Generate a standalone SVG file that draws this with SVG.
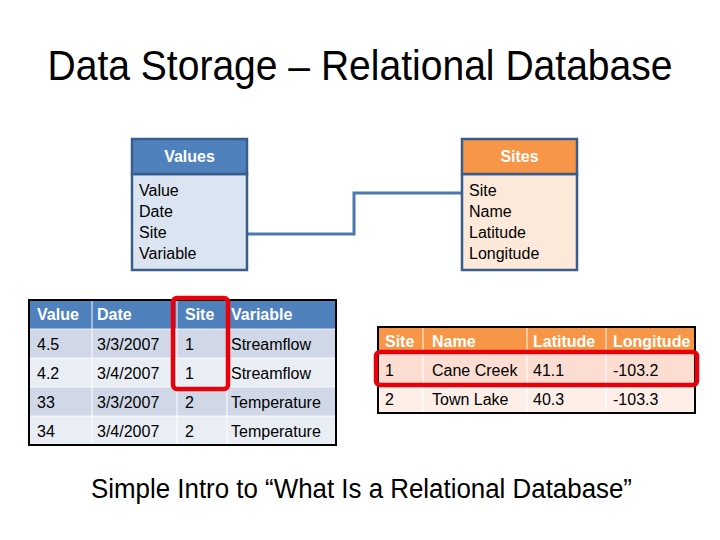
<svg xmlns="http://www.w3.org/2000/svg" width="720" height="540" viewBox="0 0 720 540">
<style>
text{font-family:"Liberation Sans",Arial,sans-serif;fill:#000}
.title{font-size:42px}
.sub{font-size:27px}
.t{font-size:16px}
.hd{font-size:16px;font-weight:bold;fill:#fff}
.div{stroke:#fff;stroke-width:1.2;stroke-opacity:0.8}
.red{fill:none;stroke:#e8000b;stroke-width:4.5}
</style>
<rect width="720" height="540" fill="#fff"/>
<text class="title" x="360" y="80" text-anchor="middle" textLength="625" lengthAdjust="spacingAndGlyphs">Data Storage – Relational Database</text>

<g id="connectors">
<polyline points="247,234 354,234 354,193 462,193" fill="none" stroke="#4a78b0" stroke-width="3"/>
</g>

<g id="values-entity">
<rect x="132" y="174" width="115" height="96" fill="#dbe5f1" stroke="#385d8a" stroke-width="2.5"/>
<rect x="132" y="139" width="115" height="35" fill="#4f81bd" stroke="#385d8a" stroke-width="2.5"/>
<text class="hd" x="189.5" y="162" text-anchor="middle">Values</text>
<text class="t" x="139" y="196">Value</text>
<text class="t" x="139" y="217">Date</text>
<text class="t" x="139" y="238">Site</text>
<text class="t" x="139" y="259">Variable</text>
</g>

<g id="sites-entity">
<rect x="462" y="174" width="115" height="96" fill="#fde9d9" stroke="#385d8a" stroke-width="2.5"/>
<rect x="462" y="139" width="115" height="35" fill="#f79646" stroke="#385d8a" stroke-width="2.5"/>
<text class="hd" x="519.5" y="162" text-anchor="middle">Sites</text>
<text class="t" x="469" y="196">Site</text>
<text class="t" x="469" y="217">Name</text>
<text class="t" x="469" y="238">Latitude</text>
<text class="t" x="469" y="259">Longitude</text>
</g>

<g id="values-table">
<rect x="29" y="300" width="307" height="29" fill="#4f81bd"/>
<rect x="29" y="329" width="307" height="29" fill="#d0d8e8"/>
<rect x="29" y="358" width="307" height="29" fill="#e9edf4"/>
<rect x="29" y="387" width="307" height="29" fill="#d0d8e8"/>
<rect x="29" y="416" width="307" height="29" fill="#e9edf4"/>
<line class="div" x1="92" y1="300" x2="92" y2="445"/>
<line class="div" x1="177" y1="300" x2="177" y2="445"/>
<line class="div" x1="227" y1="300" x2="227" y2="445"/>
<line class="div" x1="29" y1="329" x2="336" y2="329"/>
<line class="div" x1="29" y1="358" x2="336" y2="358"/>
<line class="div" x1="29" y1="387" x2="336" y2="387"/>
<line class="div" x1="29" y1="416" x2="336" y2="416"/>
<rect x="29" y="300" width="307" height="145" fill="none" stroke="#000" stroke-width="2"/>
<text class="hd" x="37" y="320">Value</text>
<text class="hd" x="97" y="320">Date</text>
<text class="hd" x="185" y="320">Site</text>
<text class="hd" x="231" y="320">Variable</text>
<text class="t" x="37" y="350">4.5</text>
<text class="t" x="97" y="350">3/3/2007</text>
<text class="t" x="185" y="350">1</text>
<text class="t" x="231" y="350">Streamflow</text>
<text class="t" x="37" y="379">4.2</text>
<text class="t" x="97" y="379">3/4/2007</text>
<text class="t" x="185" y="379">1</text>
<text class="t" x="231" y="379">Streamflow</text>
<text class="t" x="37" y="408">33</text>
<text class="t" x="97" y="408">3/3/2007</text>
<text class="t" x="185" y="408">2</text>
<text class="t" x="231" y="408">Temperature</text>
<text class="t" x="37" y="437">34</text>
<text class="t" x="97" y="437">3/4/2007</text>
<text class="t" x="185" y="437">2</text>
<text class="t" x="231" y="437">Temperature</text>
<rect class="red" x="173" y="298" width="55" height="91" rx="4"/>
</g>

<g id="sites-table">
<rect x="378" y="327" width="317" height="27" fill="#f79646"/>
<rect x="378" y="354" width="317" height="30" fill="#fcddd2"/>
<rect x="378" y="384" width="317" height="29" fill="#fdefe8"/>
<line class="div" x1="423" y1="327" x2="423" y2="413"/>
<line class="div" x1="527" y1="327" x2="527" y2="413"/>
<line class="div" x1="606" y1="327" x2="606" y2="413"/>
<line class="div" x1="378" y1="354" x2="695" y2="354"/>
<line class="div" x1="378" y1="384" x2="695" y2="384"/>
<rect x="378" y="327" width="317" height="86" fill="none" stroke="#000" stroke-width="2"/>
<text class="hd" x="385" y="347">Site</text>
<text class="hd" x="432" y="347">Name</text>
<text class="hd" x="533" y="347">Latitude</text>
<text class="hd" x="613" y="347">Longitude</text>
<text class="t" x="385" y="376">1</text>
<text class="t" x="432" y="376">Cane Creek</text>
<text class="t" x="533" y="376">41.1</text>
<text class="t" x="613" y="376">-103.2</text>
<text class="t" x="385" y="405">2</text>
<text class="t" x="432" y="405">Town Lake</text>
<text class="t" x="533" y="405">40.3</text>
<text class="t" x="613" y="405">-103.3</text>
<rect class="red" x="376" y="352" width="321" height="33" rx="4"/>
</g>

<text class="sub" x="361.5" y="498" text-anchor="middle" textLength="541" lengthAdjust="spacingAndGlyphs">Simple Intro to “What Is a Relational Database”</text>
</svg>
